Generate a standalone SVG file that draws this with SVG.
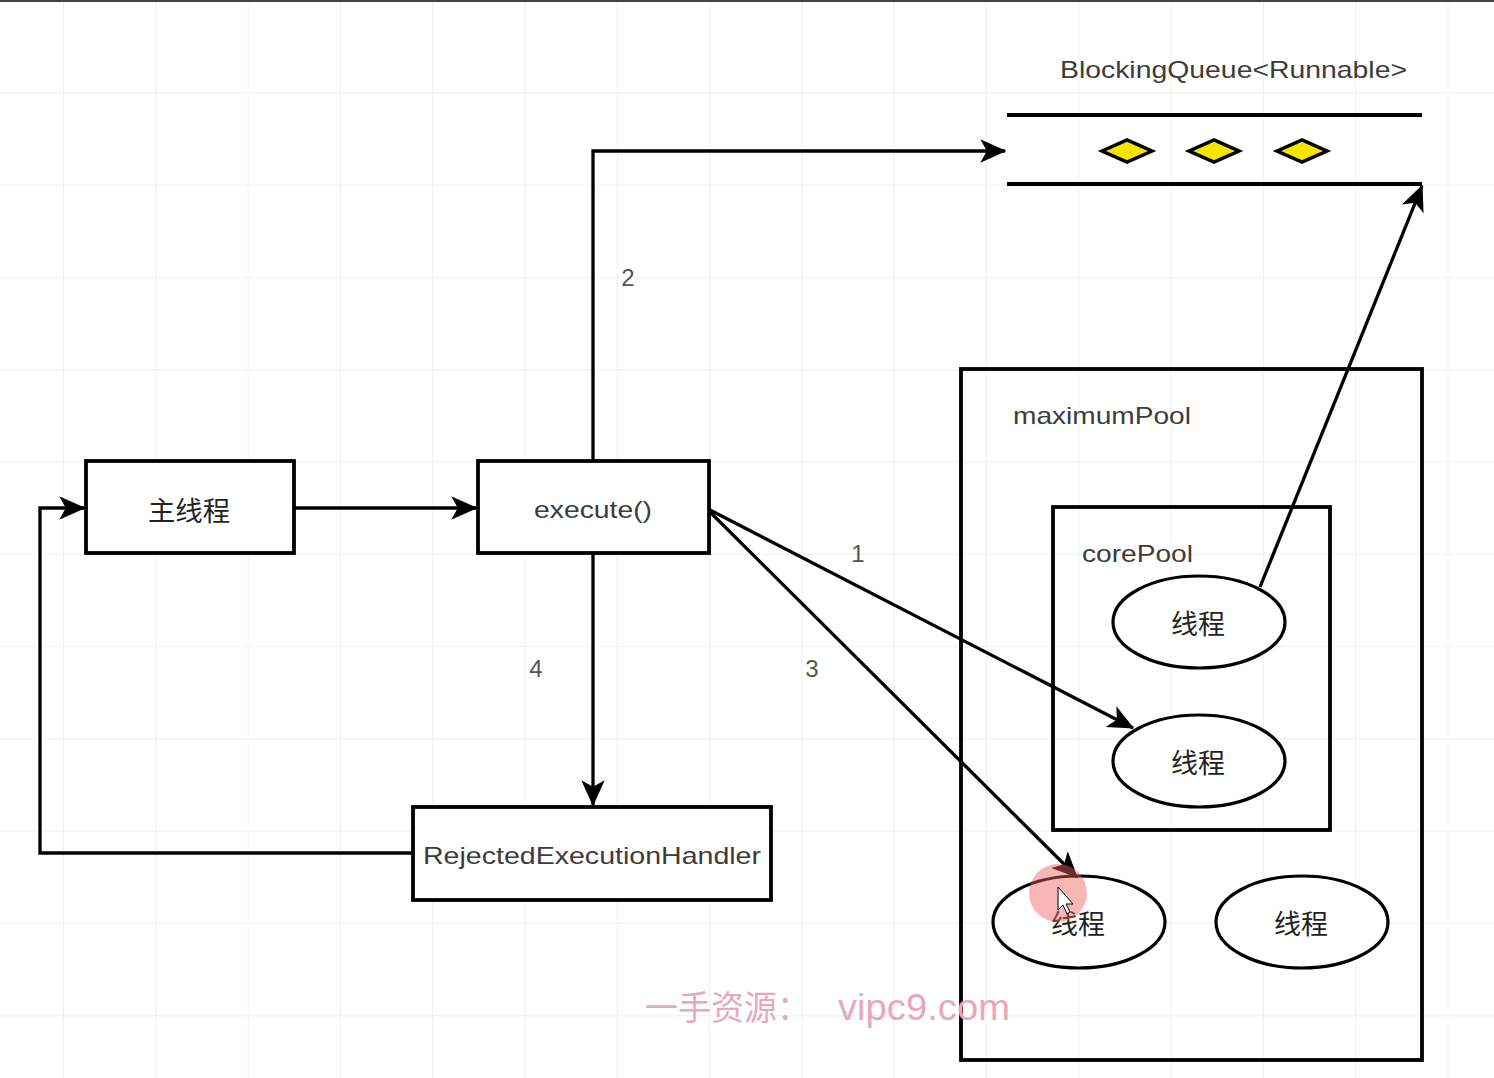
<svg xmlns="http://www.w3.org/2000/svg" width="1494" height="1078" viewBox="0 0 1494 1078">
<style>
.box{fill:#fff;stroke:#000;stroke-width:3.8}
.grp{fill:none;stroke:#000;stroke-width:3.8}
.ell{fill:#fff;stroke:#000;stroke-width:3.2}
.con{fill:none;stroke:#000;stroke-width:3.3}
.t{font-family:"Liberation Sans",Arial,sans-serif;font-size:24px;fill:#3c3c3c}
.c{font-family:"Noto Sans CJK SC","Liberation Sans",sans-serif;font-size:27px;fill:#222}
.n{font-family:"Liberation Sans",Arial,sans-serif;font-size:24px;fill:#555}
.dia{fill:#f4e400;stroke:#000;stroke-width:3.5}
.wm{fill:#e9a6bf}
</style>
<defs>
<pattern id="grid" x="63" y="0" width="92.3" height="92.3" patternUnits="userSpaceOnUse">
<path d="M0,0 V92.3 M0,0 H92.3" fill="none" stroke="#efefef" stroke-width="2"/>
</pattern>
<marker id="arr" viewBox="0 0 20 20" refX="19" refY="10" markerWidth="26" markerHeight="26" markerUnits="userSpaceOnUse" orient="auto">
<path d="M0,1 L20,10 L0,19 L5,10 z" fill="#000"/>
</marker>
</defs>
<rect width="1494" height="1078" fill="#fff"/>
<rect width="1494" height="1078" fill="url(#grid)"/>
<line x1="0" y1="1" x2="1494" y2="1" stroke="#444" stroke-width="2"/>

<g id="queue">
<text class="t" x="1060" y="78" textLength="347" lengthAdjust="spacingAndGlyphs">BlockingQueue&lt;Runnable&gt;</text>
<line x1="1007" y1="115" x2="1422" y2="115" stroke="#000" stroke-width="4"/>
<line x1="1007" y1="184" x2="1422" y2="184" stroke="#000" stroke-width="4"/>
<path class="dia" d="M1102,151 L1127,140 L1152,151 L1127,162 z"/>
<path class="dia" d="M1189,151 L1214,140 L1239,151 L1214,162 z"/>
<path class="dia" d="M1277,151 L1302,140 L1327,151 L1302,162 z"/>
</g>

<g id="maximumPool">
<rect class="grp" x="961" y="369" width="461" height="691"/>
<text class="t" x="1013" y="424" textLength="178" lengthAdjust="spacingAndGlyphs">maximumPool</text>
</g>

<g id="corePool">
<rect class="grp" x="1053" y="507" width="277" height="323"/>
<text class="t" x="1082" y="562" textLength="111" lengthAdjust="spacingAndGlyphs">corePool</text>
</g>

<g id="main">
<rect class="box" x="86" y="461" width="208" height="92"/>
<text class="c" x="189" y="521" text-anchor="middle" textLength="82" lengthAdjust="spacingAndGlyphs">主线程</text>
</g>

<g id="execute">
<rect class="box" x="478" y="461" width="231" height="92"/>
<text class="t" x="593" y="518" text-anchor="middle" textLength="118" lengthAdjust="spacingAndGlyphs">execute()</text>
</g>

<g id="rejected">
<rect class="box" x="413" y="807" width="358" height="93"/>
<text class="t" x="592" y="864" text-anchor="middle" textLength="338" lengthAdjust="spacingAndGlyphs">RejectedExecutionHandler</text>
</g>

<g id="thread1">
<ellipse class="ell" cx="1199" cy="622" rx="86" ry="46"/>
<text class="c" x="1198" y="634" text-anchor="middle" textLength="54" lengthAdjust="spacingAndGlyphs">线程</text>
</g>
<g id="thread2">
<ellipse class="ell" cx="1199" cy="761" rx="86" ry="46"/>
<text class="c" x="1198" y="773" text-anchor="middle" textLength="54" lengthAdjust="spacingAndGlyphs">线程</text>
</g>
<g id="thread3">
<ellipse class="ell" cx="1079" cy="922" rx="86" ry="46"/>
<text class="c" x="1078" y="934" text-anchor="middle" textLength="54" lengthAdjust="spacingAndGlyphs">线程</text>
</g>
<g id="thread4">
<ellipse class="ell" cx="1302" cy="922" rx="86" ry="46"/>
<text class="c" x="1301" y="934" text-anchor="middle" textLength="54" lengthAdjust="spacingAndGlyphs">线程</text>
</g>

<g id="connectors">
<path class="con" d="M294,508 H476" marker-end="url(#arr)"/>
<path class="con" d="M593,461 V151 H1005" marker-end="url(#arr)"/>
<path class="con" d="M593,553 V805" marker-end="url(#arr)"/>
<path class="con" d="M413,853 H40 V508 H84" marker-end="url(#arr)"/>
<path class="con" d="M710,510 L1133,728" marker-end="url(#arr)"/>
<path class="con" d="M710,512 L1077,877" marker-end="url(#arr)"/>
<path class="con" d="M1260,587 L1422,186" marker-end="url(#arr)"/>
<text class="n" x="628" y="286" text-anchor="middle">2</text>
<text class="n" x="858" y="562" text-anchor="middle">1</text>
<text class="n" x="536" y="677" text-anchor="middle">4</text>
<text class="n" x="812" y="677" text-anchor="middle">3</text>
</g>

<g id="cursor">
<circle cx="1058" cy="893" r="29" fill="#f06060" fill-opacity="0.45"/>
<path d="M1058,887 L1058,910 L1063,905 L1067,914 L1070,912 L1066,904 L1073,904 z" fill="#fff" stroke="#000" stroke-width="1"/>
</g>

<g id="watermark">
<text class="wm" x="645" y="1020" font-family="'Noto Sans CJK SC',sans-serif" font-size="34" textLength="165" lengthAdjust="spacingAndGlyphs">一手资源：</text>
<text class="wm" x="838" y="1020" font-family="'Liberation Sans',Arial,sans-serif" font-size="36" textLength="172" lengthAdjust="spacingAndGlyphs">vipc9.com</text>
</g>
</svg>
